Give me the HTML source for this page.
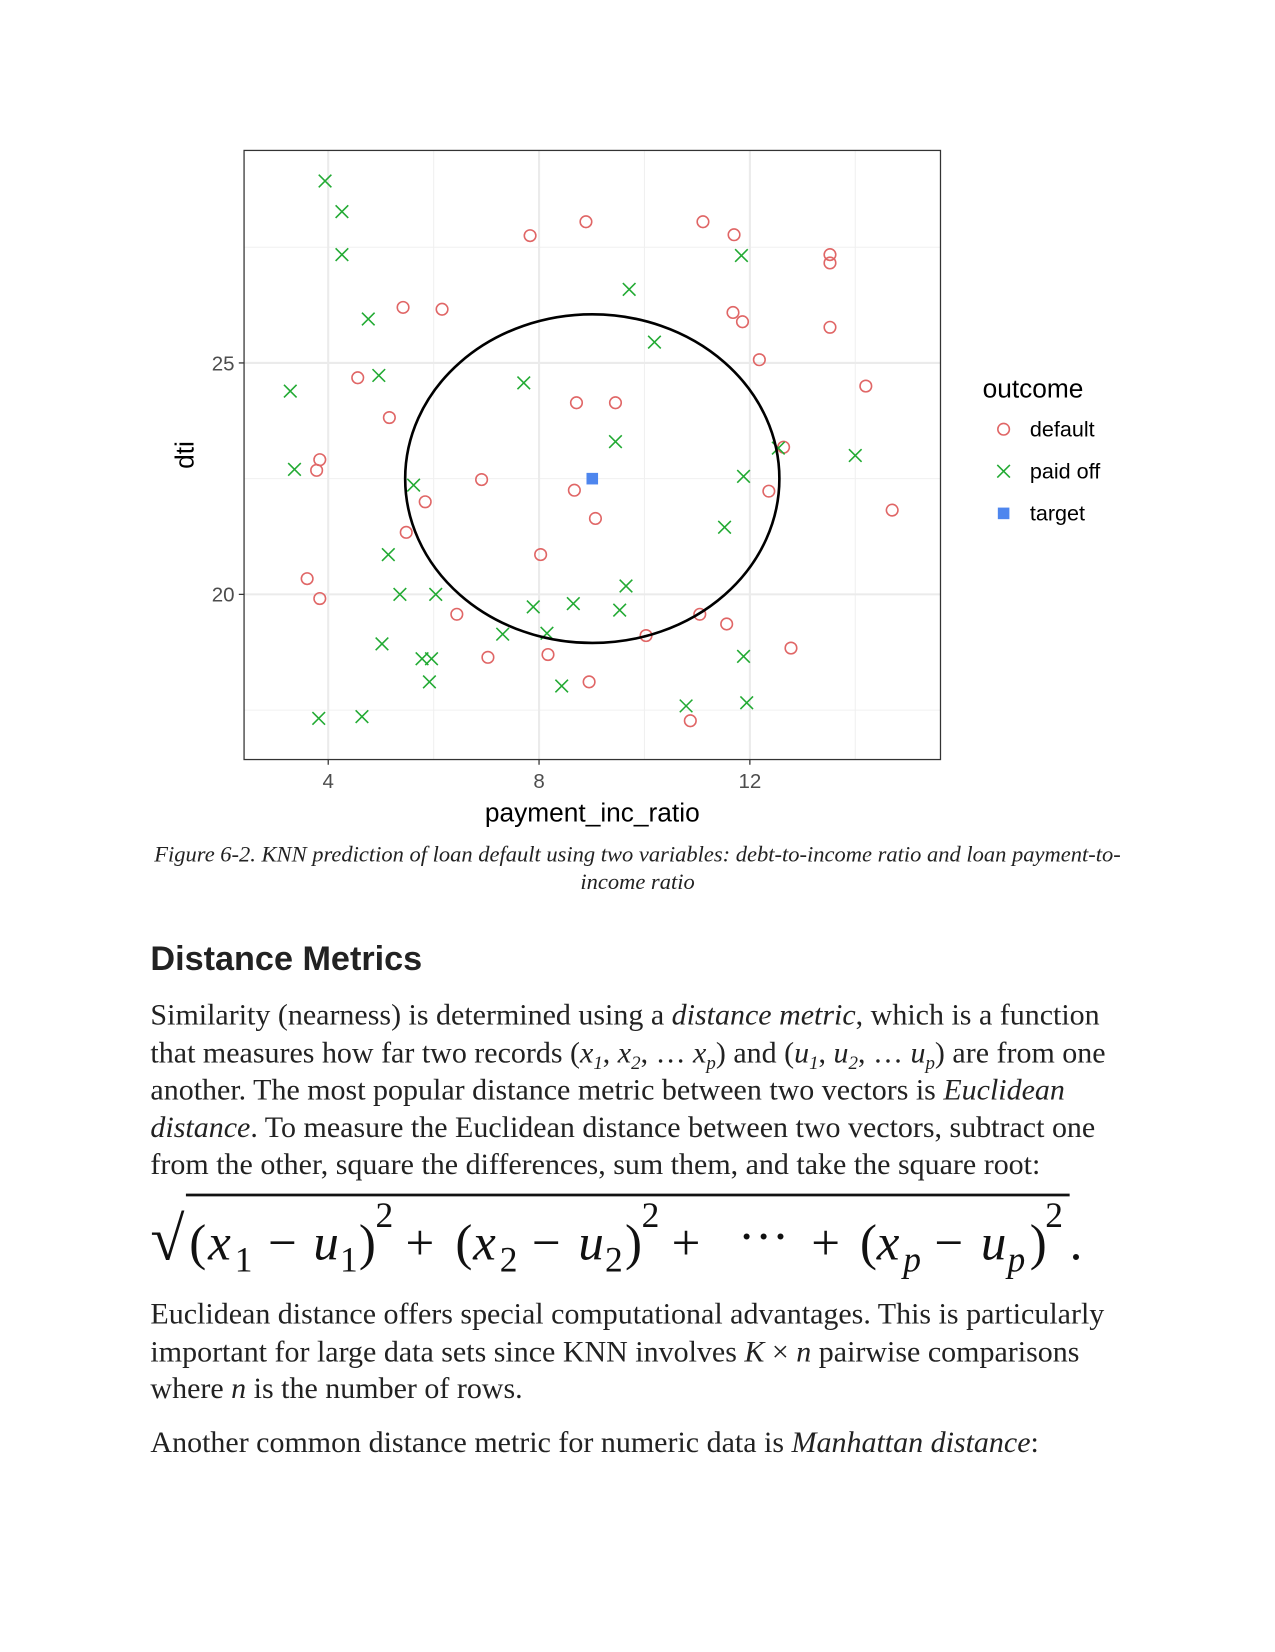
<!DOCTYPE html>
<html><head><meta charset="utf-8">
<style>
html,body{margin:0;padding:0;background:#fff;}
#page{position:absolute;left:0;top:0;width:1212px;height:1570px;transform:scale(1.052);transform-origin:0 0;font-family:"Liberation Serif",serif;color:#222;}
.abs{position:absolute;white-space:nowrap;}
.body{font-size:28.5px;left:143px;line-height:35.5px;}
.cap{font-style:italic;font-size:21.4px;width:1212px;text-align:center;left:0;line-height:26px;}
i{font-style:italic;}
.sb{font-size:18px;position:relative;top:6px;line-height:0;}
</style></head><body>
<div id="page">
<svg id="chart" width="1212" height="800" style="position:absolute;left:0;top:0" font-family="Liberation Sans, sans-serif"></svg>

<div class="abs cap" style="top:799px">Figure 6-2. KNN prediction of loan default using two variables: debt-to-income ratio and loan payment-to-<br>income ratio</div>

<div class="abs" style="left:143px;top:893px;font-family:'Liberation Sans',sans-serif;font-weight:bold;font-size:32.5px">Distance Metrics</div>

<div class="abs body" style="top:948px">Similarity (nearness) is determined using a <i>distance metric</i>, which is a function<br>that measures how far two records (<i>x<span class="sb">1</span></i>, <i>x<span class="sb">2</span></i>, … <i>x<span class="sb">p</span></i>) and (<i>u<span class="sb">1</span></i>, <i>u<span class="sb">2</span></i>, … <i>u<span class="sb">p</span></i>) are from one<br>another. The most popular distance metric between two vectors is <i>Euclidean</i><br><i>distance</i>. To measure the Euclidean distance between two vectors, subtract one<br>from the other, square the differences, sum them, and take the square root:</div>

<svg class="abs" style="left:0;top:1118px" width="1212" height="110" font-family="Liberation Serif, serif" font-size="46" fill="#111">
<g transform="translate(143,0) scale(1.054) translate(-134,0)">
<text x="134" y="75" font-size="56">√</text>
<line x1="166" y1="17" x2="963" y2="17" stroke="#111" stroke-width="2.5"/>
<text x="169" y="75">(</text>
<text x="186" y="75" font-style="italic">x</text><text x="210" y="86" font-size="32">1</text>
<text x="240" y="75">−</text>
<text x="281" y="75" font-style="italic">u</text><text x="305" y="86" font-size="32">1</text>
<text x="322" y="75">)</text><text x="337" y="46" font-size="32">2</text>
<text x="364" y="75">+</text>
<text x="409" y="75">(</text>
<text x="425" y="75" font-style="italic">x</text><text x="449" y="86" font-size="32">2</text>
<text x="478" y="75">−</text>
<text x="520" y="75" font-style="italic">u</text><text x="544" y="86" font-size="32">2</text>
<text x="562" y="75">)</text><text x="577" y="46" font-size="32">2</text>
<text x="604" y="75">+</text>
<text x="664" y="70">···</text>
<text x="730" y="75">+</text>
<text x="774" y="75">(</text>
<text x="789" y="75" font-style="italic">x</text><text x="813" y="86" font-size="32" font-style="italic">p</text>
<text x="841" y="75">−</text>
<text x="883" y="75" font-style="italic">u</text><text x="907" y="86" font-size="32" font-style="italic">p</text>
<text x="927" y="75">)</text><text x="941" y="46" font-size="32">2</text>
<text x="963" y="75">.</text>
</g>
</svg>

<div class="abs body" style="top:1232px">Euclidean distance offers special computational advantages. This is particularly<br>important for large data sets since KNN involves <i>K</i> × <i>n</i> pairwise comparisons<br>where <i>n</i> is the number of rows.</div>

<div class="abs body" style="top:1354px">Another common distance metric for numeric data is <i>Manhattan distance</i>:</div>
</div>

<script>
const defaultX=[7.83,8.89,11.11,11.70,13.52,13.52,5.42,6.16,11.68,11.86,13.52,12.18,4.56,14.20,8.71,9.45,5.16,12.64,3.84,3.78,6.91,8.67,12.36,5.84,14.70,9.07,5.48,8.03,3.60,3.84,6.44,11.05,11.56,10.03,12.78,7.03,8.17,8.95,10.87];
const defaultY=[27.75,28.05,28.05,27.77,27.34,27.16,26.20,26.16,26.09,25.89,25.77,25.07,24.68,24.50,24.14,24.14,23.82,23.18,22.91,22.68,22.48,22.25,22.23,22.00,21.82,21.64,21.34,20.86,20.34,19.91,19.57,19.57,19.36,19.11,18.84,18.64,18.70,18.11,17.27];
const paidX=[3.94,4.26,4.26,9.71,11.84,4.76,10.19,4.96,3.28,7.71,9.45,14.0,3.36,11.88,5.62,11.52,5.14,5.36,6.04,9.65,7.89,8.65,9.53,7.31,8.15,5.02,5.78,5.96,11.88,5.92,8.43,10.79,11.94,3.82,4.64,12.54];
const paidY=[28.93,28.27,27.34,26.59,27.32,25.95,25.45,24.73,24.39,24.57,23.30,23.0,22.70,22.55,22.36,21.45,20.86,20.0,20.0,20.18,19.73,19.80,19.66,19.14,19.16,18.93,18.61,18.61,18.66,18.11,18.02,17.59,17.66,17.32,17.36,23.16];
const targetX=[9.01];
const targetY=[22.50];
const radius=[3.55];
const xTicks=[4,8,12];
const yTicks=[20,25];
const xMinor=[6,10,14];
const yMinor=[17.5,22.5,27.5];

const L=232,R=894,T=143,B=722;
const sx=v=>312+(v-4)*50.1;
const sy=v=>565-(v-20)*44;
const svg=document.getElementById('chart');
const NS='http://www.w3.org/2000/svg';
function mk(tag,attrs,parent){const e=document.createElementNS(NS,tag);for(const k in attrs)e.setAttribute(k,attrs[k]);(parent||svg).appendChild(e);return e;}

mk('rect',{x:L,y:T,width:R-L,height:B-T,fill:'#fff'});
xMinor.forEach(v=>{const e=mk('line',{x1:sx(v),x2:sx(v),y1:T,y2:B,stroke:'#f0f0f0','stroke-width':1});

});
yMinor.forEach(v=>{const e=mk('line',{x1:L,x2:R,y1:sy(v),y2:sy(v),stroke:'#f0f0f0','stroke-width':1});

});
xTicks.forEach(v=>{const e=mk('line',{x1:sx(v),x2:sx(v),y1:T,y2:B,stroke:'#ebebeb','stroke-width':2});


mk('line',{x1:sx(v),x2:sx(v),y1:B,y2:B+5,stroke:'#333','stroke-width':1.2});
const t=mk('text',{x:sx(v),y:B+27,'text-anchor':'middle','font-size':19.5,fill:'#4d4d4d'});t.textContent=v;

});
yTicks.forEach(v=>{const e=mk('line',{x1:L,x2:R,y1:sy(v),y2:sy(v),stroke:'#ebebeb','stroke-width':2});


mk('line',{x1:L-5,x2:L,y1:sy(v),y2:sy(v),stroke:'#333','stroke-width':1.2});
const t=mk('text',{x:L-9,y:sy(v)+7,'text-anchor':'end','font-size':19.5,fill:'#4d4d4d'});t.textContent=v;

});

defaultX.forEach((v,i)=>{const c=mk('circle',{cx:sx(v),cy:sy(defaultY[i]),r:5.5,fill:'none',stroke:'#e06666','stroke-width':1.5});

});
paidX.forEach((v,i)=>{const x=sx(v),y=sy(paidY[i]),d=6;
const g=mk('path',{d:`M${x-d},${y-d}L${x+d},${y+d}M${x-d},${y+d}L${x+d},${y-d}`,stroke:'#22aa33','stroke-width':1.5,fill:'none'});

});
targetX.forEach((v,i)=>{const s=mk('rect',{x:sx(v)-5.5,y:sy(targetY[i])-5.5,width:11,height:11,fill:'#4e86ee'});


const c=mk('ellipse',{cx:sx(v),cy:sy(targetY[i]),rx:radius[0]*50.1,ry:radius[0]*44,fill:'none',stroke:'#000','stroke-width':2.5});

});

const fr=mk('rect',{x:L,y:T,width:R-L,height:B-T,fill:'none',stroke:'#333','stroke-width':1.2});



const xt=mk('text',{x:(L+R)/2,y:781,'text-anchor':'middle','font-size':25,fill:'#000'});xt.textContent='payment_inc_ratio';


const yt=mk('text',{x:0,y:0,'text-anchor':'middle','font-size':25,fill:'#000',transform:`translate(184,${(T+B)/2}) rotate(-90)`});yt.textContent='dti';



const lt=mk('text',{x:934,y:378,'font-size':25,fill:'#000'});lt.textContent='outcome';


const lx=954;
let c1=mk('circle',{cx:lx,cy:408,r:5.5,fill:'none',stroke:'#e06666','stroke-width':1.5});


let ly=448;
let p1=mk('path',{d:`M${lx-6},${ly-6}L${lx+6},${ly+6}M${lx-6},${ly+6}L${lx+6},${ly-6}`,stroke:'#22aa33','stroke-width':1.5});


let r1=mk('rect',{x:lx-5.5,y:488-5.5,width:11,height:11,fill:'#4e86ee'});


[['default',408],['paid off',448],['target',488]].forEach(([s,y])=>{const t=mk('text',{x:979,y:y+7,'font-size':20.5,fill:'#000'});t.textContent=s;

});
</script>
</body></html>
